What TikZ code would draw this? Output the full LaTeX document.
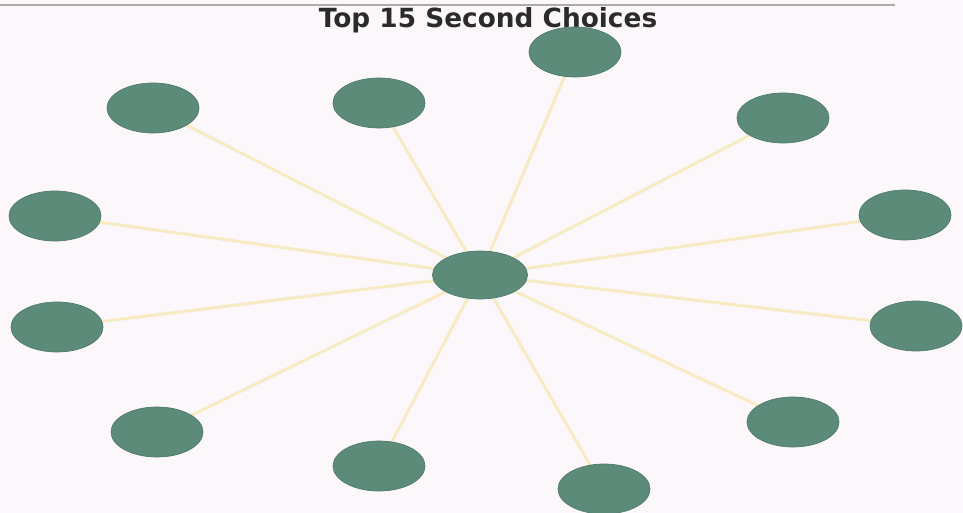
\documentclass[tikz,border=0pt]{standalone}
\usepackage{fontspec}
\newfontfamily\plotfont{DejaVu Sans}
\usetikzlibrary{shapes.geometric, backgrounds}
\definecolor{paper}{HTML}{FBF7FB}
\definecolor{pick}{HTML}{5C8C79}
\definecolor{pickrim}{HTML}{4E7A69}
\definecolor{spoke}{HTML}{F8EBC4}
\definecolor{rule}{HTML}{ABABAB}
\definecolor{ink}{HTML}{2B2B2B}
\tikzset{choice/.style={ellipse, fill=pick, draw=pickrim, line width=0.4pt, minimum width=1.84cm, minimum height=1cm, inner sep=0pt},
  spokeline/.style={spoke, line width=1.7pt, line cap=round}}

\begin{document}
\begin{tikzpicture}
  \useasboundingbox (0,0) rectangle (19.26,-10.26);
  \draw[rule,line width=1.6pt] (0,-0.1)--(17.9,-0.1);
  \node[ink,font=\plotfont\bfseries\fontsize{15}{18}\selectfont] (title) at (9.76,-0.4) {Top 15 Second Choices};
  \node[choice, minimum width=1.9cm, minimum height=0.96cm] (hub) at (9.6,-5.5) {};
  \foreach \n/\x/\y in {c1/3.06/-2.16, c2/7.58/-2.06, c3/11.5/-1.04, c4/15.66/-2.36,
      c5/1.1/-4.32, c6/18.1/-4.3, c7/1.14/-6.54, c8/18.32/-6.52,
      c9/3.14/-8.64, c10/15.86/-8.44, c11/7.58/-9.32, c12/12.08/-9.78}{
    \node[choice] (\n) at (\x,\y) {};}
  \begin{pgfonlayer}{background}
    \fill[paper] (0,0) rectangle (19.26,-10.26);
    \foreach \i in {1,...,12}{\draw[spokeline] (hub.center) -- (c\i.center);}
  \end{pgfonlayer}
\end{tikzpicture}
\end{document}
